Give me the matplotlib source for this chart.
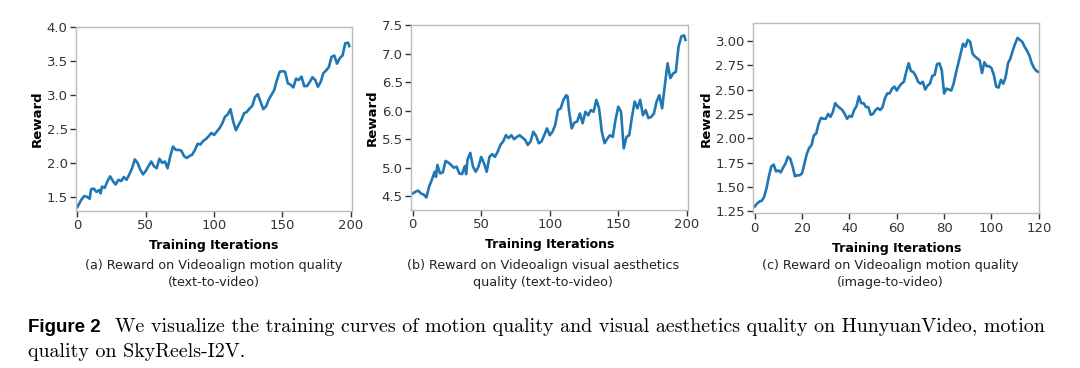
import matplotlib
matplotlib.use("Agg")
import matplotlib.pyplot as plt

# ---- (a) motion quality, text-to-video
iters_a = [0, 3, 5, 7, 9, 10, 12, 14, 16, 17, 18, 20, 22, 24, 26, 28, 30, 32, 34, 36, 38, 40,
           42, 44, 46, 48, 50, 52, 54, 56, 58, 60, 62, 64, 66, 68, 70, 72, 74, 76, 78, 80,
           82, 84, 86, 88, 90, 92, 94, 96, 98, 100, 102, 104, 106, 108, 110, 112, 114, 116,
           118, 120, 122, 124, 126, 128, 130, 132, 134, 136, 138, 140, 142, 144, 146, 148,
           150, 152, 154, 156, 158, 160, 162, 164, 166, 168, 170, 172, 174, 176, 178, 180,
           182, 184, 186, 188, 190, 192, 194, 196, 198, 199]
reward_a = [1.35, 1.46, 1.51, 1.50, 1.47, 1.61, 1.62, 1.57, 1.60, 1.55, 1.65, 1.63, 1.73, 1.80,
            1.73, 1.68, 1.75, 1.73, 1.79, 1.75, 1.83, 1.92, 2.05, 2.00, 1.90, 1.83, 1.88, 1.95,
            2.02, 1.95, 1.92, 2.06, 2.00, 2.02, 1.92, 2.10, 2.24, 2.19, 2.19, 2.18, 2.10, 2.07,
            2.10, 2.12, 2.19, 2.28, 2.27, 2.32, 2.35, 2.39, 2.44, 2.41, 2.46, 2.51, 2.58, 2.68,
            2.71, 2.79, 2.61, 2.48, 2.56, 2.63, 2.73, 2.75, 2.80, 2.84, 2.97, 3.01, 2.90, 2.79,
            2.83, 2.93, 3.00, 3.07, 3.22, 3.34, 3.35, 3.34, 3.17, 3.15, 3.11, 3.24, 3.22, 3.27,
            3.13, 3.13, 3.19, 3.26, 3.22, 3.12, 3.19, 3.32, 3.36, 3.41, 3.56, 3.58, 3.46, 3.54,
            3.58, 3.76, 3.77, 3.72]

# ---- (b) visual aesthetics, text-to-video
iters_b = [0, 2, 4, 6, 8, 10, 12, 14, 16, 17, 18, 20, 22, 24, 26, 28, 30, 32, 34, 36, 38, 39,
           40, 42, 44, 46, 48, 50, 52, 54, 56, 58, 60, 62, 64, 66, 68, 70, 72, 74, 76, 78, 80,
           82, 84, 86, 88, 90, 92, 94, 96, 98, 100, 102, 104, 106, 108, 110, 112, 113, 114,
           116, 118, 120, 122, 124, 126, 128, 130, 132, 134, 136, 138, 140, 142, 144, 146,
           148, 150, 152, 154, 156, 158, 160, 162, 164, 166, 168, 170, 172, 174, 176, 178,
           180, 182, 184, 186, 188, 190, 192, 194, 196, 198, 199]
reward_b = [4.55, 4.58, 4.60, 4.55, 4.53, 4.48, 4.67, 4.79, 4.93, 4.84, 5.05, 4.90, 4.92, 5.12,
            5.09, 5.05, 5.00, 5.02, 4.90, 4.89, 5.03, 4.89, 5.14, 5.26, 5.02, 4.93, 5.02, 5.19,
            5.08, 4.93, 5.19, 5.24, 5.19, 5.28, 5.40, 5.46, 5.57, 5.52, 5.57, 5.50, 5.54, 5.57,
            5.53, 5.49, 5.40, 5.46, 5.63, 5.56, 5.43, 5.46, 5.57, 5.69, 5.57, 5.63, 5.75, 6.01,
            6.04, 6.19, 6.27, 6.25, 6.01, 5.69, 5.79, 5.81, 5.95, 5.78, 5.98, 5.92, 6.01, 5.98,
            6.19, 6.04, 5.63, 5.43, 5.51, 5.57, 5.54, 5.84, 6.07, 5.98, 5.34, 5.54, 5.57, 5.89,
            6.16, 6.04, 6.19, 5.92, 6.01, 5.87, 5.89, 5.95, 6.16, 6.27, 6.04, 6.45, 6.83, 6.57,
            6.65, 6.68, 7.12, 7.30, 7.32, 7.24]

# ---- (c) motion quality, image-to-video
reward_c = [1.30, 1.33, 1.35, 1.36, 1.40, 1.49, 1.61, 1.71, 1.73, 1.66, 1.67, 1.65, 1.70, 1.74,
            1.81, 1.79, 1.71, 1.61, 1.62, 1.62, 1.64, 1.74, 1.84, 1.90, 1.93, 2.03, 2.05, 2.15,
            2.21, 2.20, 2.20, 2.25, 2.22, 2.27, 2.36, 2.33, 2.31, 2.29, 2.25, 2.20, 2.23, 2.22,
            2.29, 2.33, 2.43, 2.36, 2.36, 2.32, 2.32, 2.24, 2.25, 2.29, 2.31, 2.29, 2.32, 2.41,
            2.46, 2.46, 2.51, 2.53, 2.49, 2.53, 2.56, 2.58, 2.68, 2.77, 2.69, 2.68, 2.64, 2.58,
            2.56, 2.58, 2.50, 2.54, 2.56, 2.64, 2.65, 2.76, 2.77, 2.70, 2.46, 2.51, 2.50, 2.49,
            2.56, 2.67, 2.77, 2.87, 2.97, 2.94, 3.01, 2.99, 2.87, 2.84, 2.82, 2.80, 2.67, 2.78,
            2.74, 2.74, 2.72, 2.65, 2.53, 2.52, 2.60, 2.56, 2.63, 2.77, 2.82, 2.90, 2.97, 3.03,
            3.01, 2.99, 2.94, 2.90, 2.85, 2.77, 2.72, 2.69, 2.68]
iters_c = list(range(len(reward_c)))

subcaptions = ["(a) Reward on Videoalign motion quality\n(text-to-video)",
               "(b) Reward on Videoalign visual aesthetics\nquality (text-to-video)",
               "(c) Reward on Videoalign motion quality\n(image-to-video)"]

LINE = "#1f77b4"

fig = plt.figure(figsize=(10.8, 3.68), dpi=100)

panels = [
    # rect, x, y, xlim, ylim, xticks, yticks, caption center x
    ([0.0704, 0.4266, 0.2556, 0.5000], iters_a, reward_a, (-1, 201), (1.29, 4.0),
     [0, 50, 100, 150, 200], [1.5, 2.0, 2.5, 3.0, 3.5, 4.0], 0.198),
    ([0.3806, 0.4293, 0.2562, 0.5027], iters_b, reward_b, (-1.2, 200.7), (4.26, 7.5),
     [0, 50, 100, 150, 200], [4.5, 5.0, 5.5, 6.0, 6.5, 7.0, 7.5], 0.503),
    ([0.6975, 0.4204, 0.2648, 0.5163], iters_c, reward_c, (-0.6, 120.2), (1.23, 3.18),
     [0, 20, 40, 60, 80, 100, 120], [1.25, 1.5, 1.75, 2.0, 2.25, 2.5, 2.75, 3.0], 0.824),
]

for (rect, xs, ys, xl, yl, xt, yt, cx), cap in zip(panels, subcaptions):
    ax = fig.add_axes(rect)
    ax.plot(xs, ys, color=LINE, lw=1.9)
    ax.set_xlim(*xl)
    ax.set_ylim(*yl)
    ax.set_xticks(xt)
    ax.set_yticks(yt)
    if yt[1] - yt[0] == 0.25:
        ax.set_yticklabels([f"{v:.2f}" for v in yt])
    else:
        ax.set_yticklabels([f"{v:.1f}" for v in yt])
    for s in ax.spines.values():
        s.set_color("#bbbbbb")
        s.set_linewidth(1.0)
    ax.tick_params(axis="both", direction="out", length=4, width=1, color="#333333",
                   labelsize=9.5, labelcolor="#333333", pad=2)
    ax.tick_params(top=False, right=False)
    ax.set_xlabel("Training Iterations", fontsize=9, fontweight="bold", labelpad=5)
    ax.set_ylabel("Reward", fontsize=9.5, fontweight="bold", labelpad=2)
    fig.text(cx, 1 - 274 / 368, cap, ha="center", va="center", fontsize=9.2,
             linespacing=1.4, color="#222222")

# figure caption
fig.text(28 / 1080, 1 - 327 / 368, "Figure 2", fontsize=13.5, fontweight="bold",
         family="Liberation Sans", ha="left", va="center")
fig.text(115 / 1080, 1 - 327 / 368,
         "We visualize the training curves of motion quality and visual aesthetics quality on HunyuanVideo, motion",
         fontsize=14.4, family="cmr10", ha="left", va="center")
fig.text(28 / 1080, 1 - 352 / 368, "quality on SkyReels-I2V.",
         fontsize=14.4, family="cmr10", ha="left", va="center")

fig.savefig("out.png", dpi=100)
